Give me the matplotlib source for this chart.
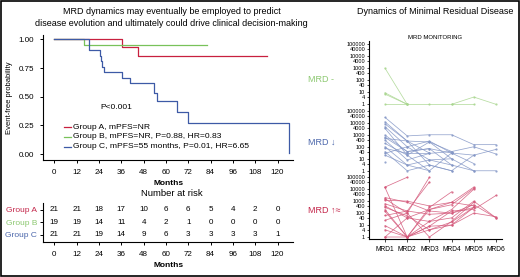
import matplotlib
matplotlib.use("Agg")
import matplotlib.pyplot as plt
import numpy as np
from matplotlib import font_manager
from matplotlib.patches import Rectangle
from matplotlib.lines import Line2D

# --- dados ---
meses = [0, 12, 24, 36, 48, 60, 72, 84, 96, 108, 120]

grpA_t = [0, 36.4, 44.8, 114.5]
grpA_s = [1.0, 0.937, 0.859, 0.859]
grpB_t = [0, 16.0, 81.9]
grpB_s = [1.0, 0.949, 0.949]
grpC_t = [0, 18.8, 24.6, 25.2, 25.8, 26.6, 36.4, 40.7, 53.7, 55.2, 65.8, 71.7, 126.3]
grpC_s = [1.0, 0.905, 0.857, 0.81, 0.762, 0.714, 0.667, 0.619, 0.53, 0.466, 0.37, 0.273, 0.01]

legendas = ["Group A, mPFS=NR",
            "Group B, mPFS=NR, P=0.88, HR=0.83",
            "Group C, mPFS=55 months, P=0.01, HR=6.65"]
grupos = ["Group A", "Group B", "Group C"]
risco_A = [21, 21, 18, 17, 10, 6, 6, 5, 4, 2, 0]
risco_B = [19, 19, 14, 11, 4, 2, 1, 0, 0, 0, 0]
risco_C = [21, 21, 19, 14, 9, 6, 3, 3, 3, 3, 1]

mrd_labels = ["MRD1", "MRD2", "MRD3", "MRD4", "MRD5", "MRD6"]
mrd_yticks = [1, 4, 10, 40, 100, 400, 1000, 4000, 10000, 40000, 100000]
N = None
mrd_neg = [
    [1000, 1, N, N, N, N],
    [9, 1, N, N, N, N],
    [7, 1, N, N, N, N],
    [1, 1, 1, 1, 1, N],
    [N, N, N, 1, 4, 1],
]
mrd_down = [
    [28000, 800, 1000, 1000, 150, 150],
    [12000, 300, 250, 40, 100, 25],
    [4700, 100, 300, 30, 20, 60],
    [3400, 20, 250, 10, 1, 1],
    [950, 40, 70, 3, N, N],
    [500, 300, 3, 1, 20, N],
    [360, 8, 28, 40, N, N],
    [190, 20, 1, 30, 4, N],
    [100, 3, 8, 3, 1, N],
    [74, 28, 28, N, N, N],
    [39, 1, 3, 1, N, N],
    [28, 100, 8, 10, N, N],
    [20, 3, 1, N, N, N],
    [5, N, N, N, N, N],
    [8000, 300, 30, N, N, N],
    [600, 40, 70, 30, N, N],
]
mrd_up = [
    [15000, 100000, N, N, N, N],
    [14000, 1, 8, 10, 300, N],
    [1600, 100, 100000, N, N, N],
    [1200, 1000, 400, 800, 15000, N],
    [600, 150, 40000, N, N, N],
    [400, 40, 200, 500, 12000, N],
    [300, 60, 4, 10, 100, 50],
    [140, 1, 300, 6000, N, N],
    [63, 150, 80, 100, 500, 40],
    [25, 100, 1, 20, 800, N],
    [9, 1, 8, 150, 200, 3000],
    [4, 1, 200, 800, 400, N],
    [1, 40, 20, 40, 1000, 40],
    [1, 1, 4, 18, 300, N],
    [200, 1, 20, 200, 10000, N],
    [2000, 800, 150, 100, 300, N],
]

# --- estilo ---
nomes = {f.name for f in font_manager.fontManager.ttflist}
fonte = "Liberation Sans" if "Liberation Sans" in nomes else "DejaVu Sans"
estreita = "Liberation Sans Narrow" if "Liberation Sans Narrow" in nomes else fonte
plt.rcParams["font.family"] = [fonte, "DejaVu Sans"]

cA, cB, cC = "#c8203f", "#78c25a", "#3d5aa6"
tA, tB, tC = "#c4264a", "#8cc870", "#4b66ab"
lA, lB, lC = "#d4587a", "#a9d68f", "#8396c6"

W, H = 520, 277
fig = plt.figure(figsize=(W / 100, H / 100), dpi=100)


def caixa(x0, y0, x1, y1):
    # pixels (topo-esquerda) -> coordenadas da figura
    return [x0 / W, 1 - y1 / H, (x1 - x0) / W, (y1 - y0) / H]


def fx(x):
    return x / W


def fy(y):
    return 1 - y / H


# --- Kaplan-Meier ---
ax1 = fig.add_axes(caixa(43.3, 35, 293, 160))
ax1.step(grpA_t, grpA_s, where="post", color=cA, lw=0.9)
ax1.step(grpB_t, grpB_s, where="post", color=cB, lw=0.9)
ax1.step(grpC_t, grpC_s, where="post", color=cC, lw=0.9)
ax1.set_xlim(-5.9, 128.3)
ax1.set_ylim(-0.052, 1.039)
ax1.set_xticks(meses)
ax1.set_yticks([0, 0.25, 0.5, 0.75, 1.0])
ax1.set_yticklabels(["0.00", "0.25", "0.50", "0.75", "1.00"])
ax1.tick_params(labelsize=5.8, length=2.5, width=0.7, pad=4)
for s in ["top", "right"]:
    ax1.spines[s].set_visible(False)
for s in ["left", "bottom"]:
    ax1.spines[s].set_linewidth(0.8)
ax1.set_xlabel("Months", fontsize=6, family=estreita, fontweight="bold", labelpad=3)
ax1.set_ylabel("Event-free probability", fontsize=5.5, family=estreita, labelpad=4)
ax1.text(25, 0.403, "P<0.001", fontsize=6, ha="left", va="center")

for i, (lab, c) in enumerate(zip(legendas, [cA, cB, cC])):
    y = fy(127 + 10 * i)
    fig.add_artist(Line2D([fx(64.3), fx(70.5)], [y, y], color=c, lw=0.9))
    fig.text(fx(73.3), y, lab, fontsize=6.1, va="center", ha="left")

# --- numero em risco ---
fig.text(fx(172), fy(194), "Number at risk", fontsize=6.8, ha="center", va="center")
ax2 = fig.add_axes(caixa(43.3, 202.7, 293, 242))
for linha, vals in enumerate([risco_A, risco_B, risco_C]):
    yrow = 3 - linha
    for m, v in zip(meses, vals):
        ax2.text(m, yrow, str(v), fontsize=5.8, ha="center", va="center")
ax2.set_xlim(-5.9, 128.3)
ax2.set_ylim(0.44, 3.58)
ax2.set_xticks(meses)
ax2.set_yticks([3, 2, 1])
ax2.set_yticklabels(grupos)
for lbl, c in zip(ax2.get_yticklabels(), [tA, tB, tC]):
    lbl.set_color(c)
ax2.tick_params(labelsize=5.8, length=2.5, width=0.7, pad=4)
ax2.tick_params(axis="y", labelsize=6, pad=2)
for s in ["top", "right"]:
    ax2.spines[s].set_visible(False)
for s in ["left", "bottom"]:
    ax2.spines[s].set_linewidth(0.8)
ax2.set_xlabel("Months", fontsize=6, family=estreita, fontweight="bold", labelpad=3)

# --- titulos ---
fig.text(fx(171.5), fy(11), "MRD dynamics may eventually be employed to predict",
         fontsize=6.5, ha="center", va="center")
fig.text(fx(171.5), fy(23.3), "disease evolution and ultimately could drive clinical decision-making",
         fontsize=6.5, ha="center", va="center")
fig.text(fx(435), fy(11), "Dynamics of Minimal Residual Disease",
         fontsize=6.5, ha="center", va="center")
fig.text(fx(435.5), fy(37.5), "MRD MONITORING", fontsize=4.3, ha="center", va="center")

# --- MRD ---
paineis = [
    (41, 107.5, (10 ** -0.265, 10 ** 5.249), mrd_neg, lB, "MRD -", tB, 79),
    (107.5, 174, (10 ** -0.27, 10 ** 5.27), mrd_down, lC, "MRD \u2193", tC, 142.3),
    (174, 239, (10 ** (-2 / 12), 10 ** (5 + 3.25 / 12)), mrd_up, lA, "MRD \u2191\u2248", tA, 210.7),
]
xs = np.arange(1, 7)
for k, (y0, y1, lim, dados, cor, rot, ctxt, yrot) in enumerate(paineis):
    ax = fig.add_axes(caixa(369, y0, 502, y1))
    for serie in dados:
        v = np.array([np.nan if a is None else a for a in serie], dtype=float)
        ax.plot(xs, v, color=cor, lw=0.55, marker=".", ms=1.2, alpha=0.85)
    ax.set_yscale("log")
    ax.set_ylim(*lim)
    ax.set_xlim(0.28, 6.27)
    ax.set_yticks(mrd_yticks)
    ax.set_yticklabels([str(t) for t in mrd_yticks])
    ax.yaxis.set_minor_locator(matplotlib.ticker.NullLocator())
    ax.tick_params(axis="y", labelsize=4.0, length=1.8, width=0.5, pad=1)
    for s in ["top", "right"]:
        ax.spines[s].set_visible(False)
    ax.spines["left"].set_linewidth(0.8)
    if k < 2:
        ax.spines["bottom"].set_visible(False)
        ax.set_xticks([])
    else:
        ax.spines["bottom"].set_linewidth(0.8)
        ax.set_xticks(xs)
        ax.set_xticklabels(mrd_labels)
        ax.tick_params(axis="x", labelsize=4.8, length=2, width=0.5, pad=3)
    fig.text(fx(308), fy(yrot), rot, fontsize=6.5, color=ctxt, ha="left", va="center")

# moldura
fig.add_artist(Rectangle((0.002, 0.003), 0.996, 0.994, transform=fig.transFigure,
                         fill=False, lw=1.2, ec="black"))

fig.savefig("out.png", dpi=100)
